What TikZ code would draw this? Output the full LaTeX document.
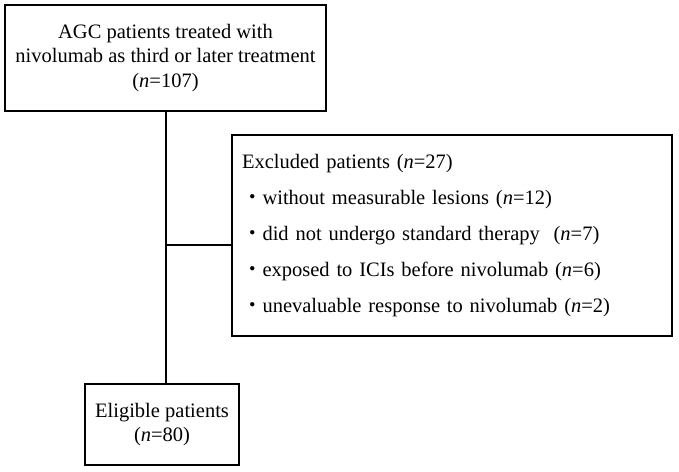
\documentclass[tikz,border=0pt]{standalone}
\usepackage{fontspec}
\setmainfont{Liberation Serif}
\newfontfamily\cjk{Noto Sans CJK JP}
\begin{document}
\begin{tikzpicture}[x=1pt,y=-1pt,
  boxstyle/.style={draw=black, line width=1.6pt, inner sep=0pt, fill=white},
  txt/.style={font=\fontsize{20.5}{24.5}\selectfont},
  conn/.style={draw=black, line width=2pt}]
\useasboundingbox[fill=white] (0,0) rectangle (679,471);
\node[boxstyle, txt, minimum width=321pt, minimum height=106pt, align=center] (top) at (165.5,58)
  {AGC patients treated with\\nivolumab as third or later treatment\\(\textit{n}=107)};
\node[boxstyle, minimum width=440pt, minimum height=201pt, text width=420pt, inner xsep=10pt, align=left,
  font=\fontsize{20.5}{36}\selectfont] (excl) at (452,235.5)
  {Excluded patients (\textit{n}=27)\\
   {\cjk ・}without measurable lesions (\textit{n}=12)\\
   {\cjk ・}did not undergo standard therapy~ (\textit{n}=7)\\
   {\cjk ・}exposed to ICIs before nivolumab (\textit{n}=6)\\
   {\cjk ・}unevaluable response to nivolumab (\textit{n}=2)};
\node[boxstyle, txt, minimum width=154pt, minimum height=81pt, align=center] (bot) at (162,424.5)
  {Eligible patients\\(\textit{n}=80)};
\coordinate (j) at (165.5,245);
\draw[conn] (top.south) -- (top.south |- bot.north);
\draw[conn] (j) -- (j -| excl.west);
\end{tikzpicture}
\end{document}
